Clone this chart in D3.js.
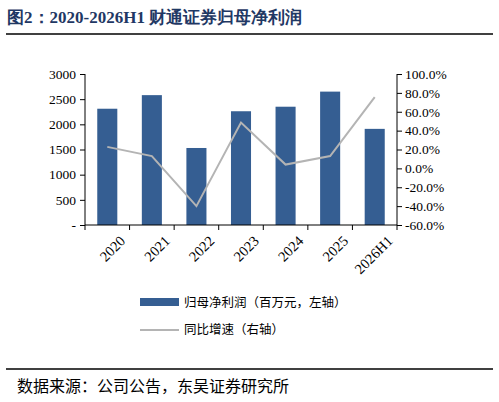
<!DOCTYPE html>
<html lang="zh">
<head>
<meta charset="UTF-8">
<script src="https://d3js.org/d3.v7.min.js"></script>
<style>
  body { margin: 0; background: #fff; }
  text { font-family: "Liberation Serif", "Times New Roman", serif; }
  .cjk { font-family: "Noto Sans CJK SC", sans-serif; }
</style>
</head>
<body>
<svg id="chart" width="499" height="402"></svg>
<script>
const years = ['2020', '2021', '2022', '2023', '2024', '2025', '2026H1'];
const profit = [2310, 2580, 1530, 2260, 2350, 2650, 1910];
const growth = [22.8, 13.0, -40.0, 48.5, 4.0, 13.0, 75.5];
const leftTicks = [0, 500, 1000, 1500, 2000, 2500, 3000];
const rightTicks = [-60, -40, -20, 0, 20, 40, 60, 80, 100];

const svg = d3.select('#chart');
const m = { l: 85, r: 397, t: 74, b: 225 };

// 标题
svg.append('text').attr('x', 7).attr('y', 23)
  .attr('fill', '#1f3864').attr('font-size', 17).attr('font-weight', 'bold')
  .attr('font-family', '"Noto Serif CJK SC", "Liberation Serif", "Noto Sans CJK SC", serif')
  .text('图2：2020-2026H1 财通证券归母净利润');
svg.append('line').attr('x1', 6).attr('x2', 493).attr('y1', 34).attr('y2', 34)
  .attr('stroke', '#000').attr('stroke-width', 1.5);

const x = d3.scaleBand().domain(years).range([m.l, m.r]).paddingInner(0.55).paddingOuter(0.275);
const y = d3.scaleLinear().domain([0, 3000]).range([m.b, m.t]);
const y2 = d3.scaleLinear().domain([-60, 100]).range([m.b, m.t]);

svg.selectAll('rect.bar').data(profit).join('rect')
  .attr('x', (d, i) => x(years[i])).attr('width', x.bandwidth())
  .attr('y', d => y(d)).attr('height', d => y(0) - y(d))
  .attr('fill', '#355e92');

const line = d3.line().x((d, i) => x(years[i]) + x.bandwidth() / 2).y(d => y2(d));
svg.append('path').datum(growth).attr('d', line)
  .attr('fill', 'none').attr('stroke', '#b4b4b4').attr('stroke-width', 2);

// 左轴
const gl = svg.append('g').attr('transform', `translate(${m.l},0)`)
  .call(d3.axisLeft(y).tickValues(leftTicks).tickSize(5).tickPadding(4)
    .tickFormat(d => d === 0 ? '-' : d));
// 右轴
const gr = svg.append('g').attr('transform', `translate(${m.r},0)`)
  .call(d3.axisRight(y2).tickValues(rightTicks).tickSize(5).tickPadding(3)
    .tickFormat(d => d.toFixed(1) + '%'));
// 底轴
const step = x.step();
const gb = svg.append('g').attr('transform', `translate(0,${m.b})`)
  .call(d3.axisBottom(x).tickSize(0).tickPadding(8));
gb.selectAll('.tick text').attr('text-anchor', 'end')
  .attr('transform', 'translate(6,4) rotate(-45)');
years.concat(['']).forEach((_, i) => {
  const xx = m.l + i * step;
  gb.append('line').attr('x1', xx).attr('x2', xx).attr('y1', 0).attr('y2', 5).attr('stroke', '#000');
});
[gl, gr, gb].forEach(g => {
  g.selectAll('.domain, .tick line').attr('stroke', '#000');
  g.selectAll('text').attr('font-size', 13.5).attr('fill', '#000')
    .attr('font-family', '"Liberation Serif", serif');
});
gb.selectAll('text').attr('font-size', 14.5);
gl.select('.domain').attr('d', `M0,${m.t}V${m.b}`);
gr.select('.domain').attr('d', `M0,${m.t}V${m.b}`);
gb.select('.domain').attr('d', `M${m.l},0H${m.r}`);

// 图例
svg.append('rect').attr('x', 140).attr('y', 298).attr('width', 39).attr('height', 8).attr('fill', '#355e92');
svg.append('text').attr('class', 'cjk').attr('x', 184).attr('y', 307).attr('font-size', 12.5).text('归母净利润（百万元，左轴）');
svg.append('line').attr('x1', 140).attr('x2', 179).attr('y1', 330).attr('y2', 330).attr('stroke', '#b4b4b4').attr('stroke-width', 2);
svg.append('text').attr('class', 'cjk').attr('x', 184).attr('y', 334).attr('font-size', 12.5).text('同比增速（右轴）');

// 来源
svg.append('line').attr('x1', 6).attr('x2', 493).attr('y1', 369).attr('y2', 369)
  .attr('stroke', '#000').attr('stroke-width', 1.5);
svg.append('text').attr('class', 'cjk').attr('x', 17).attr('y', 392).attr('font-size', 16).text('数据来源：公司公告，东吴证券研究所');
</script>
</body>
</html>
